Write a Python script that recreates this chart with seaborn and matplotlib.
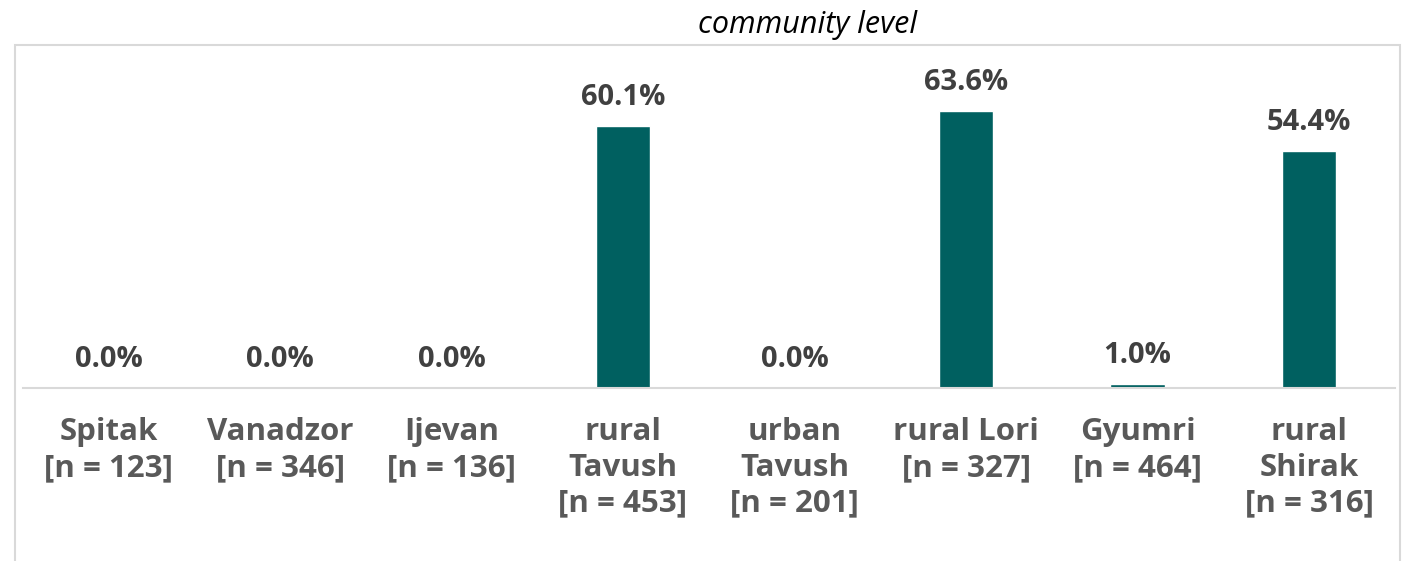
import matplotlib
matplotlib.use("Agg")
import matplotlib.pyplot as plt
import seaborn as sns
import pandas as pd
from matplotlib.patches import Rectangle

# data
communities = ["Spitak\n[n = 123]", "Vanadzor\n[n = 346]", "Ijevan\n[n = 136]",
               "rural\nTavush\n[n = 453]", "urban\nTavush\n[n = 201]",
               "rural Lori\n[n = 327]", "Gyumri\n[n = 464]",
               "rural\nShirak\n[n = 316]"]
shares = [0.0, 0.0, 0.0, 60.1, 0.0, 63.6, 1.0, 54.4]
labels = ["0.0%", "0.0%", "0.0%", "60.1%", "0.0%", "63.6%", "1.0%", "54.4%"]

df = pd.DataFrame({"community": communities, "share": shares})

sns.set_style("white")
plt.rcParams["font.family"] = ["Open Sans", "DejaVu Sans"]

fig = plt.figure(figsize=(14.15, 5.61), dpi=100)
ax = fig.add_axes([22.75 / 1415, 173 / 561, 1372 / 1415, 305 / 561])

sns.barplot(data=df, x="community", y="share", color="#006060",
            width=0.315, saturation=1, ax=ax)

# value labels
for i, p in enumerate(ax.patches):
    ax.annotate(labels[i], (p.get_x() + p.get_width() / 2, p.get_height()),
                xytext=(0, 10), textcoords="offset points",
                ha="center", va="bottom", fontsize=21, fontweight="bold",
                color="#404040")

ax.set_ylim(0, 70)
ax.set_xlim(-0.5, len(communities) - 0.5)
ax.set_xlabel("")
ax.set_ylabel("")
ax.set_yticks([])
ax.tick_params(axis="x", length=0, pad=21)
for t in ax.get_xticklabels():
    t.set_fontsize(22.5)
    t.set_fontweight("bold")
    t.set_color("#595959")
    t.set_linespacing(1.25)
    t.set_va("top")

for s in ["top", "left", "right"]:
    ax.spines[s].set_visible(False)
ax.spines["bottom"].set_color("#d9d9d9")
ax.spines["bottom"].set_linewidth(1.5)

# outer frame
fig.patches.append(Rectangle((15 / 1415, -0.05), 1385 / 1415, 1.05 - 45 / 561,
                             transform=fig.transFigure, fill=False,
                             edgecolor="#d9d9d9", linewidth=1.5))

fig.text(808 / 1415, 1 - 25 / 561, "community level", ha="center", va="center",
         fontsize=22, fontstyle="italic", color="black")

fig.savefig("out.png", dpi=100)
